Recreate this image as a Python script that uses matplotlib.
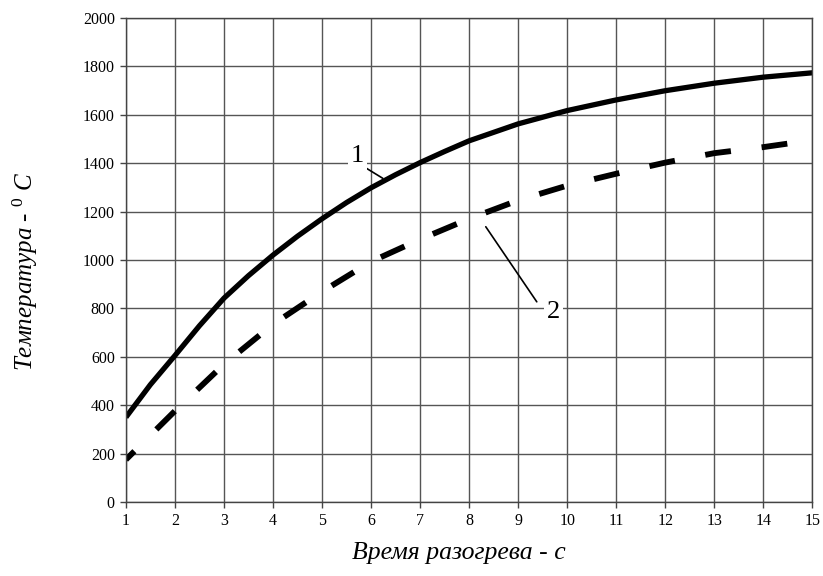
import matplotlib
matplotlib.use("Agg")
import matplotlib.pyplot as plt

# Curve 1 (solid): heating time (s) and temperature (deg C)
time_1 = [1, 1.5, 2, 2.5, 3, 3.5, 4, 4.5, 5, 5.5, 6, 6.5, 7, 7.5, 8,
          9, 10, 11, 12, 13, 14, 15]
temp_1 = [350, 485, 605, 728, 842, 935, 1020, 1098, 1170, 1237, 1298, 1352, 1402, 1448, 1492,
          1562, 1617, 1661, 1699, 1730, 1755, 1773]

# Curve 2 (dashed)
time_2 = [1, 2, 3, 4, 5, 6, 7, 8, 9, 10, 11, 12, 13, 14, 15]
temp_2 = [175, 376, 569, 734, 869, 993, 1085, 1170, 1246, 1307, 1356, 1402, 1441, 1466, 1495]

x_ticks = list(range(1, 16))
y_ticks = list(range(0, 2001, 200))

plt.rcParams["font.family"] = ["Liberation Serif", "DejaVu Serif"]
plt.rcParams["mathtext.fontset"] = "custom"
plt.rcParams["mathtext.rm"] = "Liberation Serif"
plt.rcParams["mathtext.it"] = "Liberation Serif:italic"

fig = plt.figure(figsize=(8.23, 5.76), dpi=100)
ax = fig.add_axes([0.153, 0.1285, 0.834, 0.8405])

ax.set_xlim(1, 15)
ax.set_ylim(0, 2000)
ax.set_xticks(x_ticks)
ax.set_yticks(y_ticks)
ax.grid(True, color="#555555", linewidth=1.0)
ax.set_axisbelow(True)
for s in ax.spines.values():
    s.set_color("#444444")
    s.set_linewidth(1.0)
ax.tick_params(direction="out", length=4, width=1, color="#444444",
               labelsize=11.5, pad=4)

ax.plot(time_1, temp_1, color="black", linewidth=3.8, solid_capstyle="butt",
        solid_joinstyle="round")
ax.plot(time_2, temp_2, color="black", linewidth=4.2,
        linestyle=(2.4, (4.45, 5.3)), dash_capstyle="butt")

# leader lines + curve numbers
ax.annotate("", xy=(6.24, 1337), xytext=(5.91, 1378),
            arrowprops=dict(arrowstyle="-", color="black", lw=1.2,
                            shrinkA=0, shrinkB=0))
ax.annotate("", xy=(9.38, 827), xytext=(8.34, 1137),
            arrowprops=dict(arrowstyle="-", color="black", lw=1.2,
                            shrinkA=0, shrinkB=0))
ax.text(5.72, 1429, "1", fontsize=19, ha="center", va="center",
        bbox=dict(boxstyle="square,pad=0.1", fc="white", ec="none"))
ax.text(9.72, 785, "2", fontsize=19, ha="center", va="center",
        bbox=dict(boxstyle="square,pad=0.1", fc="white", ec="none"))

ax.set_xlabel("Время разогрева - с", fontsize=18.5, style="italic")
ax.xaxis.set_label_coords(0.485, -0.083)
ax.set_ylabel(r"Температура - $^{\mathit{0}}$ C", fontsize=18, style="italic")
ax.yaxis.set_label_coords(-0.125, 0.477)

fig.savefig("out.png", dpi=100)
